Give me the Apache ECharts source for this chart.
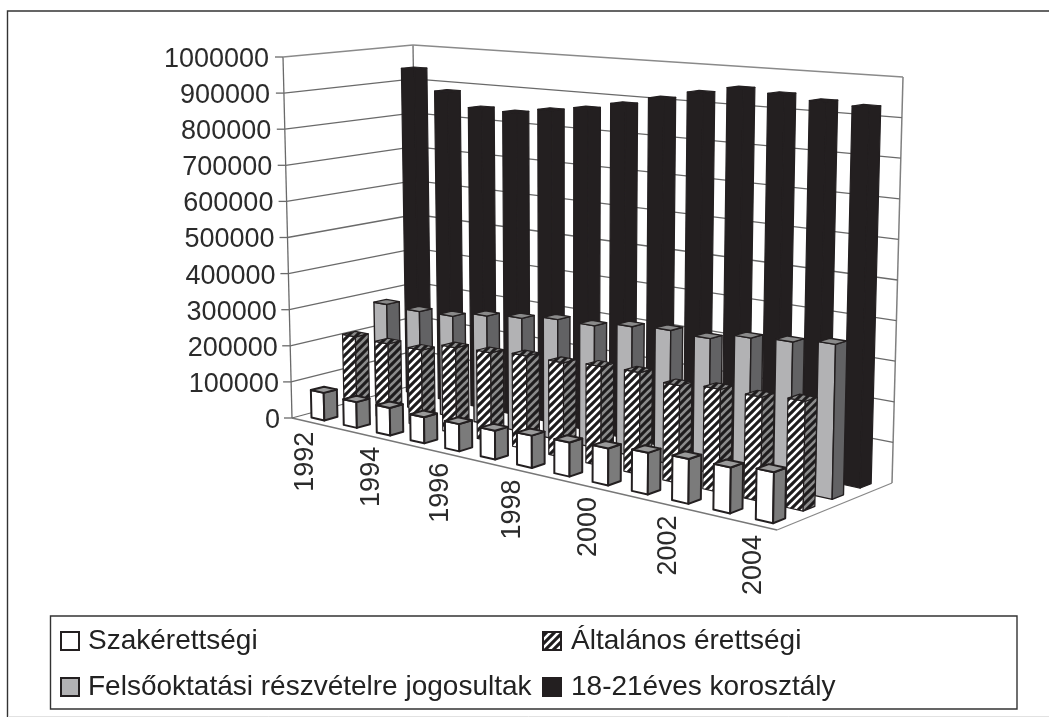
<!DOCTYPE html>
<html><head><meta charset="utf-8">
<style>html,body{margin:0;padding:0;background:#fff}#c{width:1049px;height:724px;filter:blur(0.4px)}</style>
<script src="https://cdn.jsdelivr.net/npm/echarts@6/dist/echarts.min.js"></script>
</head><body><div id="c"></div>
<script>
const years = [1992,1993,1994,1995,1996,1997,1998,1999,2000,2001,2002,2003,2004];
const valueTicks = [0,100000,200000,300000,400000,500000,600000,700000,800000,900000,1000000];
const szakerettsegi = [76000,70000,74000,69000,71000,74000,82000,85000,91000,101000,107000,108000,118000];
const altalanos = [209000,207000,207000,231000,235000,244000,244000,252000,255000,241000,250000,250000,259000];
const felsooktatasi = [280000,276000,279000,296000,306000,319000,319000,333000,340000,336000,354000,361000,372000];
const korosztaly = [940000,882000,843000,840000,855000,868000,888000,911000,934000,953000,946000,936000,930000];
const names = ['Szakérettségi','Általános érettségi','Felsőoktatási részvételre jogosultak','18-21éves korosztály'];

// perspective box of the chart: floor corners (front-left, front-right, back-right, back-left)
const FLOOR = [[292,418],[777,530],[892,483],[418,384]];
// ceiling corners that can be read (front-left, back-right, back-left)
const CEIL_FL=[283,57], CEIL_BR=[903,77], CEIL_BL=[413,45];
const pq=(()=>{
  const [p0,p1,p2,p3]=FLOOR;
  const dx1=p1[0]-p2[0],dx2=p3[0]-p2[0],sx=p0[0]-p1[0]+p2[0]-p3[0];
  const dy1=p1[1]-p2[1],dy2=p3[1]-p2[1],sy=p0[1]-p1[1]+p2[1]-p3[1];
  const det=dx1*dy2-dx2*dy1;
  return {g:(sx*dy2-dx2*sy)/det,h:(dx1*sy-sx*dy1)/det};
})();
const {g,h}=pq;
function numer(c00,c10,c01){ // numerators of a plane map sharing the floor's denominator
  const A=[c10[0]*(1+g)-c00[0],c10[1]*(1+g)-c00[1]],B=[c01[0]*(1+h)-c00[0],c01[1]*(1+h)-c00[1]];
  return (u,w)=>[A[0]*u+B[0]*w+c00[0],A[1]*u+B[1]*w+c00[1]];
}
const nF=numer(FLOOR[0],FLOOR[1],FLOOR[3]);
const nCraw=(()=>{
  const C=CEIL_FL,B=[CEIL_BL[0]*(1+h)-C[0],CEIL_BL[1]*(1+h)-C[1]];
  const t=1+g+h,A=[CEIL_BR[0]*t-B[0]-C[0],CEIL_BR[1]*t-B[1]-C[1]];
  return (u,w)=>[A[0]*u+B[0]*w+C[0],A[1]*u+B[1]*w+C[1]];
})();
function P(u,v,w){
  const d=g*u+h*w+1,a=nF(u,w),b=nCraw(u,w);
  return [(a[0]+(b[0]-a[0])*v)/d,(a[1]+(b[1]-a[1])*v)/d];
}

function stripes(bg,fg,lw){
  const n=8,c=document.createElement('canvas');c.width=c.height=n;
  const x=c.getContext('2d');x.fillStyle=bg;x.fillRect(0,0,n,n);
  x.strokeStyle=fg;x.lineWidth=lw;x.lineCap='square';
  for(const o of [-n,0,n]){x.beginPath();x.moveTo(o,n);x.lineTo(o+n,0);x.stroke();}
  return {image:c,repeat:'repeat'};
}
const hatchFront=stripes('#1e1c1d','#ffffff',2.6), hatchSide=stripes('#1e1c1d','#8c8c8c',2.6);
const INK='#231f20';
const styles=[
 {front:'#ffffff',side:'#7b7b7b',top:'#9a9a9a',line:INK,lw:2},
 {front:hatchFront,side:hatchSide,top:hatchSide,line:INK,lw:1.2},
 {front:'#b2b2b4',side:'#626264',top:'#8a8a8a',line:INK,lw:1.4},
 {front:INK,side:INK,top:INK,line:INK,lw:1.2}
];
function barSeries(j,values,z){
  const s=styles[j];
  return {type:'custom',name:names[j],z:z,clip:false,silent:true,
    data:values.map((v,i)=>[i,v]),encode:{x:0,y:1},
    itemStyle:{color:s.front,borderColor:INK,borderWidth:2},
    renderItem(params,api){
      const cs=params.coordSys,pt=api.coord([api.value(0),api.value(1)]),band=api.size([1,0])[0];
      const u=(pt[0]-cs.x)/cs.width,du=0.2*band/cs.width,v=(cs.y+cs.height-pt[1])/cs.height;
      const w0=(j+0.3)/4,w1=(j+0.7)/4,u0=u-du,u1=u+du;
      const poly=(pts,fill)=>({type:'polygon',shape:{points:pts},style:{fill:fill,stroke:s.line,lineWidth:s.lw,lineJoin:'round'}});
      return {type:'group',children:[
        poly([P(u0,0,w0),P(u1,0,w0),P(u1,v,w0),P(u0,v,w0)],s.front),
        poly([P(u1,0,w0),P(u1,0,w1),P(u1,v,w1),P(u1,v,w0)],s.side),
        poly([P(u0,v,w0),P(u1,v,w0),P(u1,v,w1),P(u0,v,w1)],s.top)
      ]};
    }};
}
const wallColor='#6a6a6a';
const wallSeries={type:'custom',z:0,clip:false,silent:true,
  data:valueTicks.map(v=>[0,v]),encode:{x:0,y:1},
  renderItem(params,api){
    const cs=params.coordSys,pt=api.coord([0,api.value(1)]);
    const v=(cs.y+cs.height-pt[1])/cs.height;
    const a=P(0,v,0),b=P(0,v,1),c=P(1,v,1);
    const ln=(p,q,col,lw)=>({type:'line',shape:{x1:p[0],y1:p[1],x2:q[0],y2:q[1]},style:{stroke:col,lineWidth:lw}});
    const kids=[ln([a[0]-8,a[1]],a,wallColor,1.3)];
    if(v===0){
      const d=P(1,0,0);
      kids.push(ln(a,d,'#777',1.3),ln(d,c,'#888',1.3),ln(a,b,wallColor,1.2),
        ln(P(0,0,0),P(0,1,0),wallColor,1.3),ln(P(0,0,1),P(0,1,1),wallColor,1.3),ln(P(1,0,1),P(1,1,1),'#808080',1.5));
    } else {
      kids.push(ln(a,b,v===1?'#8a8a8a':wallColor,1.3),ln(b,c,v===1?'#8a8a8a':wallColor,1.3));
    }
    return {type:'group',children:kids};
  }};
const yearSeries={type:'custom',z:6,clip:false,silent:true,
  data:years.map((y,i)=>[i,0]).filter(d=>d[0]%2===0),encode:{x:0,y:1},
  renderItem(params,api){
    const i=api.value(0),cs=params.coordSys,pt=api.coord([i,0]);
    const p=P((pt[0]-cs.x)/cs.width,0,0);
    return {type:'text',x:p[0]-2,y:p[1]+10,rotation:Math.PI/2,
      style:{text:String(years[i]),fill:'#2b2b2b',font:'27px "Liberation Sans"',align:'right',verticalAlign:'middle'}};
  }};
const rich={};
valueTicks.forEach((t,k)=>{rich['t'+k]={fontSize:27,fontFamily:'Liberation Sans',color:'#2b2b2b',padding:[5,12+k*1.1,0,0]};});

const legendBase={orient:'vertical',padding:0,top:627,itemWidth:18,itemHeight:18,itemGap:18,selectedMode:false,icon:'rect'};
const chart=echarts.init(document.getElementById('c'),null,{renderer:'canvas'});
chart.setOption({
  animation:false,backgroundColor:'#fff',tooltip:{show:false},
  grid:{left:292,top:57,width:485,height:361},
  xAxis:{type:'category',data:years.map(String),show:false},
  yAxis:{type:'value',min:0,max:1000000,interval:100000,splitLine:{show:false},axisLine:{show:false},axisTick:{show:false},
    axisLabel:{margin:0,formatter:(v)=>'{t'+(v/100000)+'|'+v+'}',rich:rich}},
  legend:[
   Object.assign({left:60,data:[names[0],names[2]],textStyle:{fontSize:28,fontFamily:'Liberation Sans',color:'#222',padding:[0,0,0,4]}},legendBase),
   Object.assign({left:542,data:[names[1],names[3]],textStyle:{fontSize:28,fontFamily:'Liberation Sans',color:'#222',padding:[0,0,0,5]}},legendBase)
  ],
  graphic:[
   {type:'polyline',shape:{points:[[7.5,717],[7.5,11],[1049,11]]},style:{fill:'none',stroke:'#333',lineWidth:1.4},silent:true},
   {type:'line',shape:{x1:8,y1:716.5,x2:1049,y2:716.5},style:{stroke:'#e2e2e2',lineWidth:1},silent:true},
   {type:'rect',shape:{x:50.5,y:616,width:966.5,height:93},style:{fill:'none',stroke:'#333',lineWidth:1.4},silent:true}
  ],
  series:[wallSeries,barSeries(0,szakerettsegi,5),barSeries(1,altalanos,4),barSeries(2,felsooktatasi,3),barSeries(3,korosztaly,2),yearSeries]
});
</script></body></html>
